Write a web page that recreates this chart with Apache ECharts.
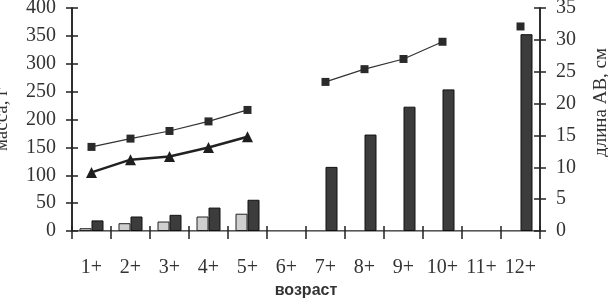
<!DOCTYPE html>
<html><head><meta charset="utf-8">
<script src="https://cdn.jsdelivr.net/npm/echarts@6/dist/echarts.min.js"></script>
<style>html,body{margin:0;padding:0;background:#fff}#c{width:608px;height:298px}</style>
</head><body><div id="c"></div>
<script>
var categories = ['1+','2+','3+','4+','5+','6+','7+','8+','9+','10+','11+','12+'];
var massLight = [5, 14, 17, 26, 31, null, null, null, null, null, null, null];
var massDark  = [19, 26, 29, 42, 56, null, 115, 173, 223, 254, null, 353];
var lengthSquare = [13.2, 14.5, 15.7, 17.2, 19.0, null, 23.4, 25.4, 27.0, 29.7, null, 32.1];
var lengthTriangle = [9.2, 11.2, 11.7, 13.1, 14.8, null, null, null, null, null, null, null];
var leftTicks = {min: 0, max: 400, interval: 50};
var rightTicks = {min: 0, max: 35, interval: 5};

var serif = '"Liberation Serif", "Times New Roman", serif';
var chart = echarts.init(document.getElementById('c'), null, {renderer: 'canvas'});
var yBase = function (t, pos) {
  return {
    type: 'value', position: pos, min: t.min, max: t.max, interval: t.interval,
    splitLine: {show: false},
    axisLine: {show: true, lineStyle: {color: '#222', width: 1.5}},
    axisTick: {show: true, length: 6, lineStyle: {color: '#222', width: 1.5}},
    axisLabel: {show: true, fontFamily: serif, fontSize: 20, color: '#333', margin: 16}
  };
};
var yLeft = yBase(leftTicks, 'left');
yLeft.name = 'масса, г'; yLeft.nameLocation = 'middle'; yLeft.nameGap = 60; yLeft.nameRotate = 90;
yLeft.nameTextStyle = {fontFamily: serif, fontSize: 19, color: '#333'};
var yRight = yBase(rightTicks, 'right');
yRight.name = 'длина АВ, см'; yRight.nameLocation = 'middle'; yRight.nameGap = 52; yRight.nameRotate = 90;
yRight.nameTextStyle = {fontFamily: serif, fontSize: 19, color: '#333', padding: [0, 0, 0, 34]};
var yLeftIn = yBase(leftTicks, 'left'); yLeftIn.axisLabel = {show: false}; yLeftIn.axisTick.inside = true;
var yRightIn = yBase(rightTicks, 'right'); yRightIn.axisLabel = {show: false}; yRightIn.axisTick.inside = true;

chart.setOption({
  backgroundColor: '#fff',
  animation: false,
  grid: {left: 72, right: 68, top: 8, bottom: 67, outerBoundsMode: 'none', containLabel: false},
  xAxis: [{
    type: 'category', data: categories, position: 'bottom',
    axisLine: {lineStyle: {color: '#222', width: 1.5}},
    axisTick: {show: true, length: 8, lineStyle: {color: '#222', width: 1.5}},
    axisLabel: {interval: 0, hideOverlap: false, fontFamily: serif, fontSize: 20, color: '#333', margin: 27},
    name: 'возраст', nameLocation: 'middle', nameGap: 51,
    nameTextStyle: {fontFamily: '"Liberation Sans", Arial, sans-serif', fontWeight: 'bold', fontSize: 16, color: '#333'}
  }, {
    type: 'category', data: categories, position: 'bottom',
    axisLine: {show: false},
    axisTick: {show: true, inside: true, length: 5, lineStyle: {color: '#222', width: 1.5}},
    axisLabel: {show: false}
  }, {
    type: 'category', data: categories, position: 'top',
    axisLine: {show: true, lineStyle: {color: '#999', width: 1}},
    axisTick: {show: false}, axisLabel: {show: false}
  }],
  yAxis: [yLeft, yRight, yLeftIn, yRightIn],
  series: [
    {type: 'bar', name: 'light', data: massLight, xAxisIndex: 0, yAxisIndex: 0, barWidth: 12, barGap: '0%',
     itemStyle: {color: '#cfcfcf', borderColor: '#222', borderWidth: 1}},
    {type: 'bar', name: 'dark', data: massDark, xAxisIndex: 0, yAxisIndex: 0, barWidth: 12, barGap: '0%',
     itemStyle: {color: '#3c3c3c', borderColor: '#111', borderWidth: 1}},
    {type: 'line', name: 'square', data: lengthSquare, xAxisIndex: 0, yAxisIndex: 1,
     symbol: 'rect', symbolSize: 8, showAllSymbol: true,
     lineStyle: {color: '#333', width: 1.2}, itemStyle: {color: '#2a2a2a'}},
    {type: 'line', name: 'triangle', data: lengthTriangle, xAxisIndex: 0, yAxisIndex: 1,
     symbol: 'triangle', symbolSize: 11, showAllSymbol: true,
     lineStyle: {color: '#222', width: 2.5}, itemStyle: {color: '#1e1e1e'}}
  ]
});
</script></body></html>
